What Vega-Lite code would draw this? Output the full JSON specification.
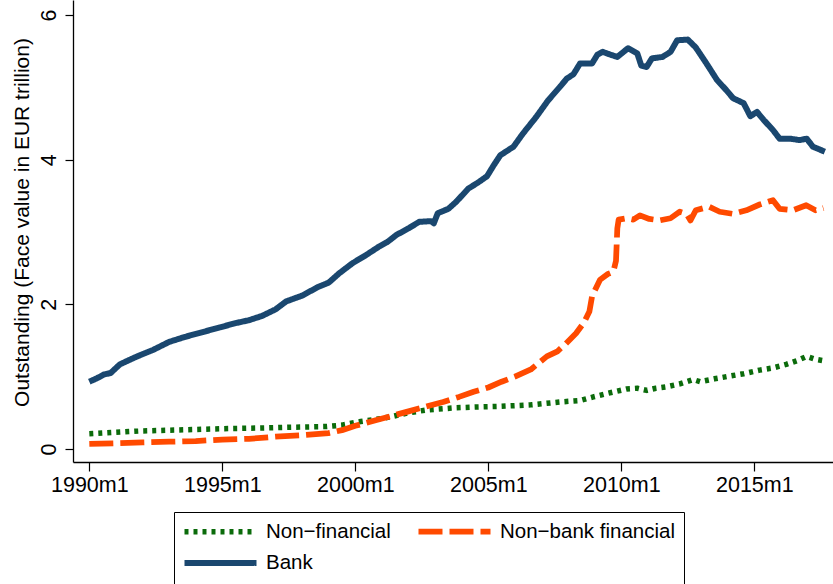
{
  "$schema": "https://vega.github.io/schema/vega-lite/v6.json",
  "autosize": {"type": "none"},
  "width": 760,
  "height": 462,
  "padding": {"left": 73, "top": 0, "right": 0, "bottom": 122},
  "background": "white",
  "config": {
    "view": {"stroke": null},
    "font": "Liberation Sans"
  },
  "data": {"values": [
    {"s": "Non−financial", "t": 1990.0, "v": 0.21},
    {"s": "Non−financial", "t": 1991.0, "v": 0.23},
    {"s": "Non−financial", "t": 1992.0, "v": 0.25},
    {"s": "Non−financial", "t": 1993.0, "v": 0.26},
    {"s": "Non−financial", "t": 1994.0, "v": 0.27},
    {"s": "Non−financial", "t": 1995.0, "v": 0.28},
    {"s": "Non−financial", "t": 1996.4, "v": 0.29},
    {"s": "Non−financial", "t": 1997.5, "v": 0.30},
    {"s": "Non−financial", "t": 1998.9, "v": 0.31},
    {"s": "Non−financial", "t": 1999.5, "v": 0.33},
    {"s": "Non−financial", "t": 2000.2, "v": 0.38},
    {"s": "Non−financial", "t": 2000.8, "v": 0.41},
    {"s": "Non−financial", "t": 2001.4, "v": 0.45},
    {"s": "Non−financial", "t": 2002.0, "v": 0.50},
    {"s": "Non−financial", "t": 2002.7, "v": 0.54},
    {"s": "Non−financial", "t": 2003.8, "v": 0.57},
    {"s": "Non−financial", "t": 2004.5, "v": 0.58},
    {"s": "Non−financial", "t": 2005.5, "v": 0.59},
    {"s": "Non−financial", "t": 2006.6, "v": 0.61},
    {"s": "Non−financial", "t": 2007.7, "v": 0.65},
    {"s": "Non−financial", "t": 2008.45, "v": 0.67},
    {"s": "Non−financial", "t": 2008.95, "v": 0.72},
    {"s": "Non−financial", "t": 2009.5, "v": 0.77},
    {"s": "Non−financial", "t": 2010.2, "v": 0.83},
    {"s": "Non−financial", "t": 2010.6, "v": 0.84},
    {"s": "Non−financial", "t": 2010.96, "v": 0.81},
    {"s": "Non−financial", "t": 2011.3, "v": 0.84},
    {"s": "Non−financial", "t": 2011.7, "v": 0.86},
    {"s": "Non−financial", "t": 2012.2, "v": 0.90},
    {"s": "Non−financial", "t": 2012.7, "v": 0.96},
    {"s": "Non−financial", "t": 2012.96, "v": 0.93},
    {"s": "Non−financial", "t": 2013.5, "v": 0.97},
    {"s": "Non−financial", "t": 2013.96, "v": 1.00},
    {"s": "Non−financial", "t": 2014.6, "v": 1.04},
    {"s": "Non−financial", "t": 2015.2, "v": 1.09},
    {"s": "Non−financial", "t": 2015.7, "v": 1.12},
    {"s": "Non−financial", "t": 2016.2, "v": 1.17},
    {"s": "Non−financial", "t": 2016.6, "v": 1.22},
    {"s": "Non−financial", "t": 2016.97, "v": 1.28},
    {"s": "Non−financial", "t": 2017.3, "v": 1.24},
    {"s": "Non−financial", "t": 2017.6, "v": 1.22},

    {"s": "Non−bank financial", "t": 1990.0, "v": 0.07},
    {"s": "Non−bank financial", "t": 1991.0, "v": 0.08},
    {"s": "Non−bank financial", "t": 1992.0, "v": 0.09},
    {"s": "Non−bank financial", "t": 1993.0, "v": 0.10},
    {"s": "Non−bank financial", "t": 1994.0, "v": 0.11},
    {"s": "Non−bank financial", "t": 1995.0, "v": 0.13},
    {"s": "Non−bank financial", "t": 1996.0, "v": 0.14},
    {"s": "Non−bank financial", "t": 1997.0, "v": 0.17},
    {"s": "Non−bank financial", "t": 1998.0, "v": 0.19},
    {"s": "Non−bank financial", "t": 1999.0, "v": 0.22},
    {"s": "Non−bank financial", "t": 1999.5, "v": 0.26},
    {"s": "Non−bank financial", "t": 2000.0, "v": 0.32},
    {"s": "Non−bank financial", "t": 2000.8, "v": 0.40},
    {"s": "Non−bank financial", "t": 2001.4, "v": 0.46},
    {"s": "Non−bank financial", "t": 2002.0, "v": 0.52},
    {"s": "Non−bank financial", "t": 2002.7, "v": 0.59},
    {"s": "Non−bank financial", "t": 2003.3, "v": 0.65},
    {"s": "Non−bank financial", "t": 2003.9, "v": 0.72},
    {"s": "Non−bank financial", "t": 2004.45, "v": 0.79},
    {"s": "Non−bank financial", "t": 2005.0, "v": 0.85},
    {"s": "Non−bank financial", "t": 2005.5, "v": 0.93},
    {"s": "Non−bank financial", "t": 2006.0, "v": 1.00},
    {"s": "Non−bank financial", "t": 2006.6, "v": 1.10},
    {"s": "Non−bank financial", "t": 2007.2, "v": 1.28},
    {"s": "Non−bank financial", "t": 2007.6, "v": 1.35},
    {"s": "Non−bank financial", "t": 2007.9, "v": 1.45},
    {"s": "Non−bank financial", "t": 2008.3, "v": 1.60},
    {"s": "Non−bank financial", "t": 2008.6, "v": 1.75},
    {"s": "Non−bank financial", "t": 2008.8, "v": 1.90},
    {"s": "Non−bank financial", "t": 2008.9, "v": 2.11},
    {"s": "Non−bank financial", "t": 2009.2, "v": 2.34},
    {"s": "Non−bank financial", "t": 2009.5, "v": 2.42},
    {"s": "Non−bank financial", "t": 2009.7, "v": 2.45},
    {"s": "Non−bank financial", "t": 2009.8, "v": 2.60},
    {"s": "Non−bank financial", "t": 2009.85, "v": 3.05},
    {"s": "Non−bank financial", "t": 2009.9, "v": 3.17},
    {"s": "Non−bank financial", "t": 2010.2, "v": 3.19},
    {"s": "Non−bank financial", "t": 2010.45, "v": 3.17},
    {"s": "Non−bank financial", "t": 2010.7, "v": 3.23},
    {"s": "Non−bank financial", "t": 2011.05, "v": 3.18},
    {"s": "Non−bank financial", "t": 2011.45, "v": 3.16},
    {"s": "Non−bank financial", "t": 2011.85, "v": 3.19},
    {"s": "Non−bank financial", "t": 2012.2, "v": 3.28},
    {"s": "Non−bank financial", "t": 2012.45, "v": 3.25},
    {"s": "Non−bank financial", "t": 2012.6, "v": 3.16},
    {"s": "Non−bank financial", "t": 2012.8, "v": 3.30},
    {"s": "Non−bank financial", "t": 2013.3, "v": 3.35},
    {"s": "Non−bank financial", "t": 2013.7, "v": 3.28},
    {"s": "Non−bank financial", "t": 2014.2, "v": 3.25},
    {"s": "Non−bank financial", "t": 2014.7, "v": 3.30},
    {"s": "Non−bank financial", "t": 2015.2, "v": 3.38},
    {"s": "Non−bank financial", "t": 2015.7, "v": 3.44},
    {"s": "Non−bank financial", "t": 2015.95, "v": 3.32},
    {"s": "Non−bank financial", "t": 2016.45, "v": 3.30},
    {"s": "Non−bank financial", "t": 2016.95, "v": 3.37},
    {"s": "Non−bank financial", "t": 2017.3, "v": 3.30},
    {"s": "Non−bank financial", "t": 2017.6, "v": 3.33},

    {"s": "Bank", "t": 1990.0, "v": 0.93},
    {"s": "Bank", "t": 1990.3, "v": 0.98},
    {"s": "Bank", "t": 1990.55, "v": 1.03},
    {"s": "Bank", "t": 1990.8, "v": 1.05},
    {"s": "Bank", "t": 1991.15, "v": 1.17},
    {"s": "Bank", "t": 1991.5, "v": 1.23},
    {"s": "Bank", "t": 1991.8, "v": 1.28},
    {"s": "Bank", "t": 1992.4, "v": 1.37},
    {"s": "Bank", "t": 1993.0, "v": 1.48},
    {"s": "Bank", "t": 1993.6, "v": 1.55},
    {"s": "Bank", "t": 1994.3, "v": 1.62},
    {"s": "Bank", "t": 1994.9, "v": 1.68},
    {"s": "Bank", "t": 1995.5, "v": 1.74},
    {"s": "Bank", "t": 1996.0, "v": 1.78},
    {"s": "Bank", "t": 1996.5, "v": 1.84},
    {"s": "Bank", "t": 1997.0, "v": 1.93},
    {"s": "Bank", "t": 1997.4, "v": 2.04},
    {"s": "Bank", "t": 1998.0, "v": 2.12},
    {"s": "Bank", "t": 1998.6, "v": 2.24},
    {"s": "Bank", "t": 1999.0, "v": 2.30},
    {"s": "Bank", "t": 1999.4, "v": 2.43},
    {"s": "Bank", "t": 1999.9, "v": 2.57},
    {"s": "Bank", "t": 2000.4, "v": 2.68},
    {"s": "Bank", "t": 2000.9, "v": 2.80},
    {"s": "Bank", "t": 2001.2, "v": 2.86},
    {"s": "Bank", "t": 2001.55, "v": 2.96},
    {"s": "Bank", "t": 2002.0, "v": 3.05},
    {"s": "Bank", "t": 2002.4, "v": 3.14},
    {"s": "Bank", "t": 2002.85, "v": 3.15},
    {"s": "Bank", "t": 2002.95, "v": 3.12},
    {"s": "Bank", "t": 2003.1, "v": 3.26},
    {"s": "Bank", "t": 2003.5, "v": 3.32},
    {"s": "Bank", "t": 2003.8, "v": 3.42},
    {"s": "Bank", "t": 2004.25, "v": 3.60},
    {"s": "Bank", "t": 2004.6, "v": 3.68},
    {"s": "Bank", "t": 2004.95, "v": 3.77},
    {"s": "Bank", "t": 2005.2, "v": 3.92},
    {"s": "Bank", "t": 2005.45, "v": 4.06},
    {"s": "Bank", "t": 2005.95, "v": 4.18},
    {"s": "Bank", "t": 2006.3, "v": 4.36},
    {"s": "Bank", "t": 2006.8, "v": 4.59},
    {"s": "Bank", "t": 2007.25, "v": 4.82},
    {"s": "Bank", "t": 2007.7, "v": 5.01},
    {"s": "Bank", "t": 2007.95, "v": 5.12},
    {"s": "Bank", "t": 2008.2, "v": 5.18},
    {"s": "Bank", "t": 2008.45, "v": 5.33},
    {"s": "Bank", "t": 2008.9, "v": 5.33},
    {"s": "Bank", "t": 2009.1, "v": 5.45},
    {"s": "Bank", "t": 2009.3, "v": 5.49},
    {"s": "Bank", "t": 2009.6, "v": 5.45},
    {"s": "Bank", "t": 2009.85, "v": 5.42},
    {"s": "Bank", "t": 2010.25, "v": 5.54},
    {"s": "Bank", "t": 2010.6, "v": 5.47},
    {"s": "Bank", "t": 2010.75, "v": 5.30},
    {"s": "Bank", "t": 2010.95, "v": 5.28},
    {"s": "Bank", "t": 2011.15, "v": 5.40},
    {"s": "Bank", "t": 2011.55, "v": 5.42},
    {"s": "Bank", "t": 2011.85, "v": 5.49},
    {"s": "Bank", "t": 2012.1, "v": 5.65},
    {"s": "Bank", "t": 2012.5, "v": 5.66},
    {"s": "Bank", "t": 2012.8, "v": 5.55},
    {"s": "Bank", "t": 2013.2, "v": 5.33},
    {"s": "Bank", "t": 2013.6, "v": 5.10},
    {"s": "Bank", "t": 2013.95, "v": 4.96},
    {"s": "Bank", "t": 2014.2, "v": 4.85},
    {"s": "Bank", "t": 2014.6, "v": 4.78},
    {"s": "Bank", "t": 2014.85, "v": 4.60},
    {"s": "Bank", "t": 2015.1, "v": 4.66},
    {"s": "Bank", "t": 2015.35, "v": 4.55},
    {"s": "Bank", "t": 2015.7, "v": 4.41},
    {"s": "Bank", "t": 2015.95, "v": 4.29},
    {"s": "Bank", "t": 2016.35, "v": 4.29},
    {"s": "Bank", "t": 2016.7, "v": 4.27},
    {"s": "Bank", "t": 2016.97, "v": 4.29},
    {"s": "Bank", "t": 2017.2, "v": 4.18},
    {"s": "Bank", "t": 2017.65, "v": 4.11}
  ]},
  "mark": {"type": "line", "strokeCap": "butt", "strokeJoin": "round"},
  "encoding": {
    "x": {
      "field": "t", "type": "quantitative",
      "scale": {"domain": [1989.387, 2017.958], "nice": false, "zero": false},
      "axis": {
        "values": [1990, 1995, 2000, 2005, 2010, 2015],
        "labelExpr": "datum.value + 'm1'",
        "title": null, "grid": false,
        "domainColor": "black", "domainWidth": 1.3,
        "tickColor": "black", "tickSize": 9, "tickWidth": 1.2,
        "labelFont": "Liberation Sans", "labelFontSize": 21.5, "labelColor": "black",
        "labelPadding": 3, "labelFlush": false, "labelOverlap": false
      }
    },
    "y": {
      "field": "v", "type": "quantitative",
      "scale": {"domain": [-0.18, 6.207], "nice": false, "zero": false},
      "axis": {
        "values": [0, 2, 4, 6],
        "title": "Outstanding (Face value in EUR trillion)",
        "grid": false,
        "domainColor": "black", "domainWidth": 1.3,
        "tickColor": "black", "tickSize": 8, "tickWidth": 1.2,
        "labelFont": "Liberation Sans", "labelFontSize": 21.5, "labelColor": "black",
        "labelAngle": -90, "labelAlign": "center", "labelBaseline": "bottom", "labelPadding": 5,
        "labelFlush": false, "labelOverlap": false,
        "titleFont": "Liberation Sans", "titleFontSize": 21, "titleFontWeight": "normal", "titleColor": "black",
        "titleAngle": -90, "titleAlign": "center", "titleBaseline": "middle",
        "titleX": -51, "titleY": 222
      }
    },
    "color": {
      "field": "s", "type": "nominal",
      "scale": {"domain": ["Non−financial", "Non−bank financial", "Bank"], "range": ["#0b6b0b", "#ff4a00", "#1a476f"]},
      "sort": ["Non−financial", "Non−bank financial", "Bank"],
      "legend": {
        "title": null, "orient": "none", "legendX": 101, "legendY": 512,
        "columns": 2, "direction": "horizontal",
        "symbolType": "M-5,0H5", "symbolSize": 207.4, "symbolStrokeWidth": 5.5,
        "symbolOffset": 27,
        "labelFont": "Liberation Sans", "labelFontSize": 20.5, "labelColor": "black",
        "labelOffset": 35, "columnPadding": 15, "rowPadding": 7.5, "padding": 9,
        "strokeColor": "black", "fillColor": "white", "labelLimit": 400
      }
    },
    "strokeDash": {
      "field": "s", "type": "nominal",
      "scale": {"domain": ["Non−financial", "Non−bank financial", "Bank"], "range": [[4, 5], [24, 7], [1, 0]]},
      "sort": ["Non−financial", "Non−bank financial", "Bank"]
    },
    "strokeWidth": {
      "field": "s", "type": "nominal",
      "scale": {"domain": ["Non−financial", "Non−bank financial", "Bank"], "range": [5.5, 6, 7.5]},
      "legend": null
    }
  }
}
